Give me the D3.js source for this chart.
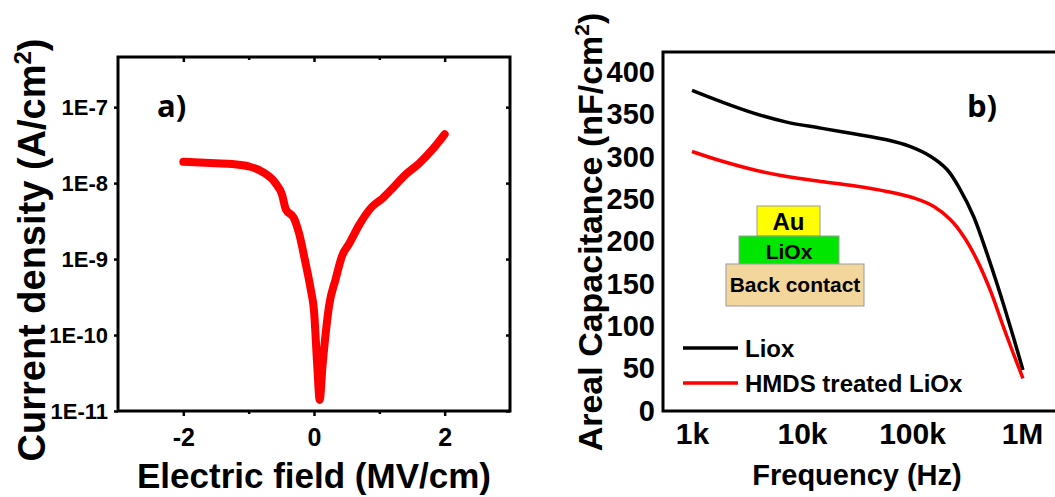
<!DOCTYPE html>
<html>
<head>
<meta charset="utf-8">
<script src="https://cdn.jsdelivr.net/npm/d3@7"></script>
<style>
  body { margin: 0; background: #fff; }
  svg { display: block; font-family: "Liberation Sans", Arial, sans-serif; }
</style>
</head>
<body>
<svg id="chart" width="1055" height="497"></svg>
<script>
// panel a: J-E curve (field in MV/cm, current density in A/cm^2)
const fieldA = [-2.0, -1.51, -1.25, -1.0, -0.79, -0.59, -0.49, -0.43, -0.31, -0.23, -0.13, -0.05, 0.0, 0.05, 0.087,
                0.13, 0.18, 0.23, 0.33, 0.43, 0.54, 0.69, 0.89, 1.05, 1.2, 1.4, 1.61, 1.81, 2.0];
const currentA = [1.91e-8, 1.82e-8, 1.78e-8, 1.66e-8, 1.41e-8, 1.0e-8, 7.1e-9, 4.5e-9, 3.5e-9, 2.2e-9, 8.9e-10, 4.0e-10, 2.1e-10, 3.9e-11, 1.4e-11,
                  3.9e-11, 1.07e-10, 2.4e-10, 5.4e-10, 1.1e-9, 1.6e-9, 2.8e-9, 4.9e-9, 6.3e-9, 8.5e-9, 1.29e-8, 1.82e-8, 2.75e-8, 4.4e-8];
const yTicksA = [1e-7, 1e-8, 1e-9, 1e-10, 1e-11];
const yTickLabelsA = ["1E-7", "1E-8", "1E-9", "1E-10", "1E-11"];
const xMajorA = [-2, 0, 2];
const xMinorA = [-1, 1];

// panel b: areal capacitance vs frequency
const freqLiox = [1000, 1810, 3630, 7240, 14800, 29500, 58900, 95500, 148000, 209000, 275000, 363000, 479000, 631000, 832000, 1020000];
const capLiox  = [378.6, 365.6, 351.8, 341.2, 334.1, 327.4, 320.3, 312.5, 300.6, 284.9, 261.2, 229.7, 186.4, 139.1, 87.9, 48.5];
const freqHmds = [1000, 1820, 3630, 7240, 14800, 29500, 58900, 105000, 158000, 224000, 295000, 389000, 513000, 676000, 832000, 1020000];
const capHmds  = [306.5, 295.5, 284.9, 277, 271.1, 266, 259.3, 251.4, 241.5, 225.8, 206.1, 178.5, 143, 99.7, 68.2, 38.6];
const yTicksB = [0, 50, 100, 150, 200, 250, 300, 350, 400];
const xTicksB = [1e3, 1e4, 1e5, 1e6];
const xTickLabelsB = ["1k", "10k", "100k", "1M"];
const legendNames = ["Liox", "HMDS treated LiOx"];
const legendColors = ["#000000", "#ff0000"];

// inset device stack
const stackLayers = ["Au", "LiOx", "Back contact"];
const stackColors = ["#ffff00", "#00e600", "#f3d69c"];

const svg = d3.select("#chart");
const bold = "bold";

// ---------- panel a ----------
const xA = d3.scaleLinear().domain([-3, 3]).range([118, 510]);
const yA = d3.scaleLog().domain([1e-11, Math.pow(10, -6.34)]).range([411, 57]);

const gA = svg.append("g");

function styleAxis(g, size) {
  g.select(".domain").remove();
  g.selectAll("line").attr("stroke", "#000").attr("stroke-width", 2.5);
  g.selectAll("text")
    .attr("font-family", "'Liberation Sans', Arial, sans-serif")
    .attr("font-weight", bold)
    .attr("font-size", size)
    .attr("fill", "#000");
}

// left ticks (outward) with labels
gA.append("g")
  .attr("transform", `translate(${xA.range()[0]},0)`)
  .call(d3.axisLeft(yA).tickValues(yTicksA).tickSize(4).tickPadding(6)
    .tickFormat((d, i) => yTickLabelsA[i]))
  .call(g => styleAxis(g, 22));

// right ticks (inward)
gA.append("g")
  .attr("transform", `translate(${xA.range()[1]},0)`)
  .call(d3.axisLeft(yA).tickValues(yTicksA).tickSize(4).tickFormat(""))
  .call(g => styleAxis(g, 22));

// bottom ticks (outward) with labels
gA.append("g")
  .attr("transform", `translate(0,${yA.range()[0]})`)
  .call(d3.axisBottom(xA).tickValues(xMajorA).tickSize(5).tickPadding(12)
    .tickFormat(d => String(d)))
  .call(g => styleAxis(g, 25));
gA.append("g")
  .attr("transform", `translate(0,${yA.range()[0]})`)
  .call(d3.axisBottom(xA).tickValues(xMinorA).tickSize(3).tickFormat(""))
  .call(g => styleAxis(g, 25));

// top ticks (inward)
gA.append("g")
  .attr("transform", `translate(0,${yA.range()[1]})`)
  .call(d3.axisBottom(xA).tickValues(xMajorA).tickSize(5).tickFormat(""))
  .call(g => styleAxis(g, 25));
gA.append("g")
  .attr("transform", `translate(0,${yA.range()[1]})`)
  .call(d3.axisBottom(xA).tickValues(xMinorA).tickSize(3).tickFormat(""))
  .call(g => styleAxis(g, 25));

// frame
gA.append("rect")
  .attr("x", xA.range()[0]).attr("y", yA.range()[1])
  .attr("width", xA.range()[1] - xA.range()[0])
  .attr("height", yA.range()[0] - yA.range()[1])
  .attr("fill", "none").attr("stroke", "#000").attr("stroke-width", 3);

const lineA = d3.line()
  .curve(d3.curveMonotoneX)
  .x((d, i) => xA(fieldA[i]))
  .y(d => yA(d));

gA.append("path")
  .datum(currentA)
  .attr("d", lineA)
  .attr("fill", "none")
  .attr("stroke", "#ff0000")
  .attr("stroke-width", 8)
  .attr("stroke-linecap", "round")
  .attr("stroke-linejoin", "round");

gA.append("text")
  .attr("x", 157).attr("y", 117)
  .attr("font-family", "'Open Sans', sans-serif")
  .attr("font-weight", bold).attr("font-size", 31)
  .text("a)");

gA.append("text")
  .attr("x", 314).attr("y", 488)
  .attr("text-anchor", "middle")
  .attr("font-weight", bold).attr("font-size", 35)
  .text("Electric field (MV/cm)");

const titleA = gA.append("text")
  .attr("transform", "translate(45,250) rotate(-90)")
  .attr("text-anchor", "middle")
  .attr("font-weight", bold).attr("font-size", 38);
titleA.append("tspan").text("Current density (A/cm");
titleA.append("tspan").attr("font-size", 24).attr("dy", -14).text("2");
titleA.append("tspan").attr("dy", 14).text(")");

// ---------- panel b ----------
const xB = d3.scaleLog().domain([Math.pow(10, 2.736), Math.pow(10, 6.6)]).range([663, 1088]);
const yB = d3.scaleLinear().domain([0, 424]).range([411, 52]);

const gB = svg.append("g");

gB.append("g")
  .attr("transform", `translate(${xB.range()[0]},0)`)
  .call(d3.axisLeft(yB).tickValues(yTicksB).tickSize(0).tickPadding(8)
    .tickFormat(d3.format("d")))
  .call(g => styleAxis(g, 29));

gB.append("g")
  .attr("transform", `translate(0,${yB.range()[0]})`)
  .call(d3.axisBottom(xB).tickValues(xTicksB).tickSize(0).tickPadding(12)
    .tickFormat((d, i) => xTickLabelsB[i]))
  .call(g => styleAxis(g, 30));

gB.append("rect")
  .attr("x", xB.range()[0]).attr("y", yB.range()[1])
  .attr("width", xB.range()[1] - xB.range()[0])
  .attr("height", yB.range()[0] - yB.range()[1])
  .attr("fill", "none").attr("stroke", "#000").attr("stroke-width", 3);

const seriesB = [
  { name: legendNames[0], color: legendColors[0], f: freqLiox, c: capLiox },
  { name: legendNames[1], color: legendColors[1], f: freqHmds, c: capHmds }
];

seriesB.forEach(s => {
  const line = d3.line()
    .curve(d3.curveCatmullRom.alpha(0.5))
    .x((d, i) => xB(s.f[i]))
    .y(d => yB(d));
  gB.append("path")
    .datum(s.c)
    .attr("d", line)
    .attr("fill", "none")
    .attr("stroke", s.color)
    .attr("stroke-width", 3.5);
});

// legend
const legend = gB.append("g").attr("transform", "translate(683,348)");
seriesB.forEach((s, i) => {
  const yOff = i * 35;
  legend.append("line")
    .attr("x1", 0).attr("x2", 55)
    .attr("y1", yOff).attr("y2", yOff)
    .attr("stroke", s.color).attr("stroke-width", 3.5);
  legend.append("text")
    .attr("x", 62).attr("y", yOff + 9)
    .attr("font-weight", bold).attr("font-size", 24)
    .text(s.name);
});

// inset stack
const stackBoxes = [
  { x: 757, y: 206, w: 63, h: 30, size: 24, base: 230 },
  { x: 739, y: 236, w: 100, h: 28, size: 21, base: 259 },
  { x: 726, y: 264, w: 138, h: 42, size: 21, base: 292 }
];
stackBoxes.forEach((b, i) => {
  gB.append("rect")
    .attr("x", b.x).attr("y", b.y)
    .attr("width", b.w).attr("height", b.h)
    .attr("fill", stackColors[i])
    .attr("stroke", "#9a9a9a").attr("stroke-width", 1);
  gB.append("text")
    .attr("x", b.x + b.w / 2).attr("y", b.base)
    .attr("text-anchor", "middle")
    .attr("font-weight", bold).attr("font-size", b.size)
    .text(stackLayers[i]);
});

gB.append("text")
  .attr("x", 967).attr("y", 117)
  .attr("font-family", "'Open Sans', sans-serif")
  .attr("font-weight", bold).attr("font-size", 31)
  .text("b)");

gB.append("text")
  .attr("x", 857).attr("y", 485)
  .attr("text-anchor", "middle")
  .attr("font-weight", bold).attr("font-size", 29)
  .text("Frequency (Hz)");

const titleB = gB.append("text")
  .attr("transform", "translate(602,232) rotate(-90)")
  .attr("text-anchor", "middle")
  .attr("font-weight", bold).attr("font-size", 34);
titleB.append("tspan").text("Areal Capacitance (nF/cm");
titleB.append("tspan").attr("font-size", 21).attr("dy", -13).text("2");
titleB.append("tspan").attr("dy", 13).text(")");
</script>
</body>
</html>
